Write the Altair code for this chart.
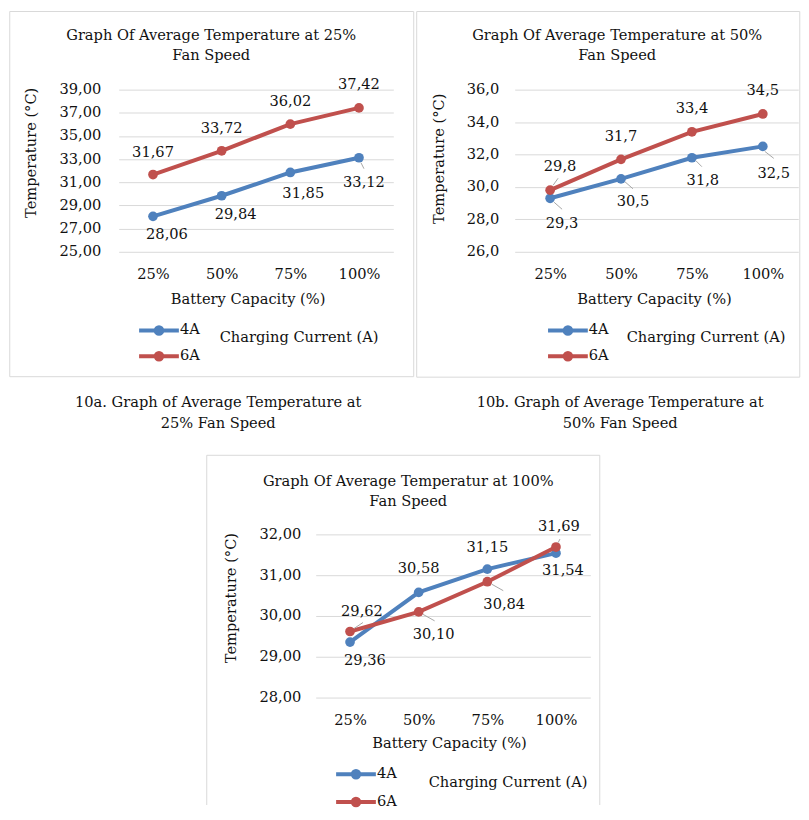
import altair as alt
import pandas as pd

# ---------------- data ----------------
CAPACITY = ["25%", "50%", "75%", "100%"]
SERIES = ["4A", "6A"]
COLORS = ["#4F81BD", "#C0504D"]

TEMP_A_4A = [28.06, 29.84, 31.85, 33.12]
TEMP_A_6A = [31.67, 33.72, 36.02, 37.42]
TEMP_B_4A = [29.3, 30.5, 31.8, 32.5]
TEMP_B_6A = [29.8, 31.7, 33.4, 34.5]
TEMP_C_4A = [29.36, 30.58, 31.15, 31.54]
TEMP_C_6A = [29.62, 30.10, 30.84, 31.69]

Y_TICKS_A = [25, 27, 29, 31, 33, 35, 37, 39]
Y_TICKS_B = [26, 28, 30, 32, 34, 36]
Y_TICKS_C = [28, 29, 30, 31, 32]

TITLE_A = ["Graph Of Average Temperature at 25%", "Fan Speed"]
TITLE_B = ["Graph Of Average Temperature at 50%", "Fan Speed"]
TITLE_C = ["Graph Of Average Temperatur at 100%", "Fan Speed"]
CAPTION_A = ["10a. Graph of Average Temperature at", "25% Fan Speed"]
CAPTION_B = ["10b. Graph of Average Temperature at", "50% Fan Speed"]
X_TITLE = "Battery Capacity (%)"
Y_TITLE = "Temperature (°C)"
LEGEND_TITLE = "Charging Current (A)"

# ---------------- styles ----------------
FONT = "DejaVu Serif"
FS = 14.7
TEXT = "#111111"
GRID = "#D9D9D9"
BORDER = "#D9D9D9"
LEADER = "#A6A6A6"
LEG_SYMBOL = ("M-3.33,0L3.33,0M0.55,0A0.55,0.55,0,1,1,-0.55,0"
              "A0.55,0.55,0,1,1,0.55,0Z")

# label offsets (dx, dy) from each point, per series
OFF_A = {"4A": [(14, 19), (14, 19), (13, 22), (5, 25)],
         "6A": [(0, -22), (0, -22), (0, -22), (0, -23)]}
OFF_B = {"4A": [(12, 26), (12, 23), (11, 23), (11, 28)],
         "6A": [(10, -23), (0, -22), (0, -23), (0, -23)]}
OFF_C = {"4A": [(15, 19), (0, -23), (0, -21), (7, 18)],
         "6A": [(12, -20), (15, 23), (17, 23), (3, -20)]}
# leader lines (series, index, path in px relative to the point)
LEAD_A = [("4A", 3, "M2,5L5,11")]
LEAD_B = [("6A", 0, "M3,-5L8,-12"), ("4A", 0, "M4,4L12,11"),
          ("4A", 1, "M4,3L12,10"), ("4A", 2, "M4,3L10,9"),
          ("4A", 3, "M2,5L11,12")]
LEAD_C = [("6A", 0, "M4,-3L13,-9"), ("6A", 1, "M4.4,2.5L16,9"),
          ("6A", 2, "M4.4,2.5L16,9"), ("6A", 3, "M2.2,-4.5L4,-8")]

DUMMY = pd.DataFrame({"k": [0]})


def text_block(lines, x, y, lh, size=FS):
    return alt.Chart(DUMMY).mark_text(
        font=FONT, fontSize=size, color=TEXT, align="center",
        baseline="middle", lineHeight=lh
    ).encode(x=alt.value(x), y=alt.value(y), text=alt.value(lines))


def panel(v4, v6, W, H, ydom, yticks, dec, title, title_xy, caption, cap_xy,
          border, extents, ytitle_xy, xtitle_xy, ylab_pad, offsets, leaders,
          leg):
    df = pd.DataFrame({
        "capacity": CAPACITY * 2,
        "series": [SERIES[0]] * 4 + [SERIES[1]] * 4,
        "temp": v4 + v6,
    })
    fmt_expr = f"replace(format(datum.temp, '.{dec}f'), '.', ',')"
    axis_fmt = f"replace(format(datum.value, '.{dec}f'), '.', ',')"

    x = alt.X("capacity:N", sort=CAPACITY,
              scale=alt.Scale(type="point", padding=0.5),
              axis=alt.Axis(title=X_TITLE, labelAngle=0, ticks=False,
                            domain=False, grid=False, labelPadding=23,
                            labelBaseline="middle", labelFont=FONT,
                            labelFontSize=FS, labelColor=TEXT,
                            titleFont=FONT, titleFontSize=FS,
                            titleFontWeight="normal", titleColor=TEXT,
                            titleX=xtitle_xy[0], titleY=xtitle_xy[1],
                            titleAlign="center", titleBaseline="middle"))
    y = alt.Y("temp:Q",
              scale=alt.Scale(domain=ydom, nice=False, zero=False),
              axis=alt.Axis(title=Y_TITLE, values=yticks, labelExpr=axis_fmt,
                            grid=True, gridColor=GRID, gridWidth=1,
                            domain=False, ticks=False, labelPadding=ylab_pad,
                            labelFont=FONT, labelFontSize=FS,
                            labelColor=TEXT, titleFont=FONT,
                            titleFontSize=FS, titleFontWeight="normal",
                            titleColor=TEXT, titleX=ytitle_xy[0],
                            titleY=ytitle_xy[1], titleAngle=270,
                            titleAlign="center", titleBaseline="middle"))
    legend = alt.Legend(
        title=LEGEND_TITLE, orient="none", legendX=leg["x"], legendY=leg["y"],
        direction="vertical", titleOrient="right", titleAnchor="middle",
        titleBaseline="bottom", titlePadding=leg["tp"],
        symbolType=LEG_SYMBOL, symbolSize=144, symbolStrokeWidth=4,
        labelOffset=13, rowPadding=leg["rp"], padding=0,
        labelFont=FONT, labelFontSize=FS, labelColor=TEXT,
        titleFont=FONT, titleFontSize=FS, titleFontWeight="normal",
        titleColor=TEXT)
    cscale = alt.Scale(domain=SERIES, range=COLORS)
    base = alt.Chart(df)

    layers = []
    # panel border
    if border[3] is None:
        bx1, bx2, by1, by2 = border[0], border[1], border[2], border[4]
        for xa, xb, ya, yb in [(bx1, bx2, by1, by1), (bx1, bx1, by1, by2),
                               (bx2, bx2, by1, by2)]:
            layers.append(alt.Chart(DUMMY).mark_rule(
                color=BORDER, strokeWidth=1).encode(
                x=alt.value(xa), x2=alt.value(xb),
                y=alt.value(ya), y2=alt.value(yb)))
    else:
        layers.append(alt.Chart(DUMMY).mark_rect(
            fillOpacity=0, stroke=BORDER, strokeWidth=1).encode(
            x=alt.value(border[0]), x2=alt.value(border[1]),
            y=alt.value(border[2]), y2=alt.value(border[3])))
    for ex in extents:
        layers.append(alt.Chart(DUMMY).mark_rect(opacity=0).encode(
            x=alt.value(ex[0]), x2=alt.value(ex[1]),
            y=alt.value(ex[2]), y2=alt.value(ex[3])))
    layers.append(text_block(title, title_xy[0], title_xy[1], 20))
    if caption:
        layers.append(text_block(caption, cap_xy[0], cap_xy[1], 21))

    for s in SERIES:
        sb = base.transform_filter(alt.datum.series == s)
        layers.append(sb.mark_line(strokeWidth=4).encode(
            x=x, y=y, stroke=alt.Stroke("series:N", scale=cscale,
                                        legend=legend)))
        layers.append(sb.mark_circle(size=95, opacity=1).encode(
            x=x, y=y, fill=alt.Fill("series:N", scale=cscale,
                                    legend=legend)))

    for s in SERIES:
        for i, cap in enumerate(CAPACITY):
            dx, dy = offsets[s][i]
            layers.append(
                base.transform_filter(
                    (alt.datum.series == s) & (alt.datum.capacity == cap))
                .transform_calculate(lbl=fmt_expr)
                .mark_text(font=FONT, fontSize=FS, color=TEXT, align="center",
                           baseline="middle", dx=dx, dy=dy)
                .encode(x=x, y=y, text="lbl:N"))
    for s, i, path in leaders:
        layers.append(
            base.transform_filter(
                (alt.datum.series == s) & (alt.datum.capacity == CAPACITY[i]))
            .mark_point(shape=path, size=4, filled=False, color=LEADER,
                        strokeWidth=1, opacity=1)
            .encode(x=x, y=y))

    return alt.layer(*layers).properties(width=W, height=H)


pa = panel(TEMP_A_4A, TEMP_A_6A, 276, 163, [25, 39], Y_TICKS_A, 2,
           TITLE_A, (93, -54), CAPTION_A, (100, 315),
           (-109.5, 296.5, -78.5, 288.5), [(-109, 296, -79, 365)],
           (-88, 63), (129.5, 48), 18, OFF_A, LEAD_A,
           {"x": 32.5, "y": 234, "tp": 20, "rp": 2})
pb = panel(TEMP_B_4A, TEMP_B_6A, 285, 163, [26, 36], Y_TICKS_B, 1,
           TITLE_B, (103, -54), CAPTION_B, (106, 315),
           (-98.5, 286.5, -78.5, 289), [(-98, 286, -79, 365)],
           (-76, 69), (140, 48), 16, OFF_B, LEAD_B,
           {"x": 45.5, "y": 234, "tp": 18, "rp": 2})
pc = panel(TEMP_C_4A, TEMP_C_6A, 276, 164, [28, 32], Y_TICKS_C, 2,
           TITLE_C, (93, -53), None, None,
           (-109.5, 285.5, -79.5, None, 272), [(-109, 289, -79, 0)],
           (-85, 63.5), (134, 46), 15, OFF_C, LEAD_C,
           {"x": 32.5, "y": 233, "tp": 32, "rp": 4})

top = alt.hconcat(pa, pb, spacing=0).resolve_scale(
    stroke="independent", fill="independent").resolve_legend(
    stroke="independent", fill="independent")
chart = alt.vconcat(top, pc, spacing=0, center=True).resolve_scale(
    stroke="independent", fill="independent").resolve_legend(
    stroke="independent", fill="independent").properties(
    padding=0).configure_view(stroke="transparent")

chart.save("out.html", embed_options={"renderer": "svg", "actions": False})
